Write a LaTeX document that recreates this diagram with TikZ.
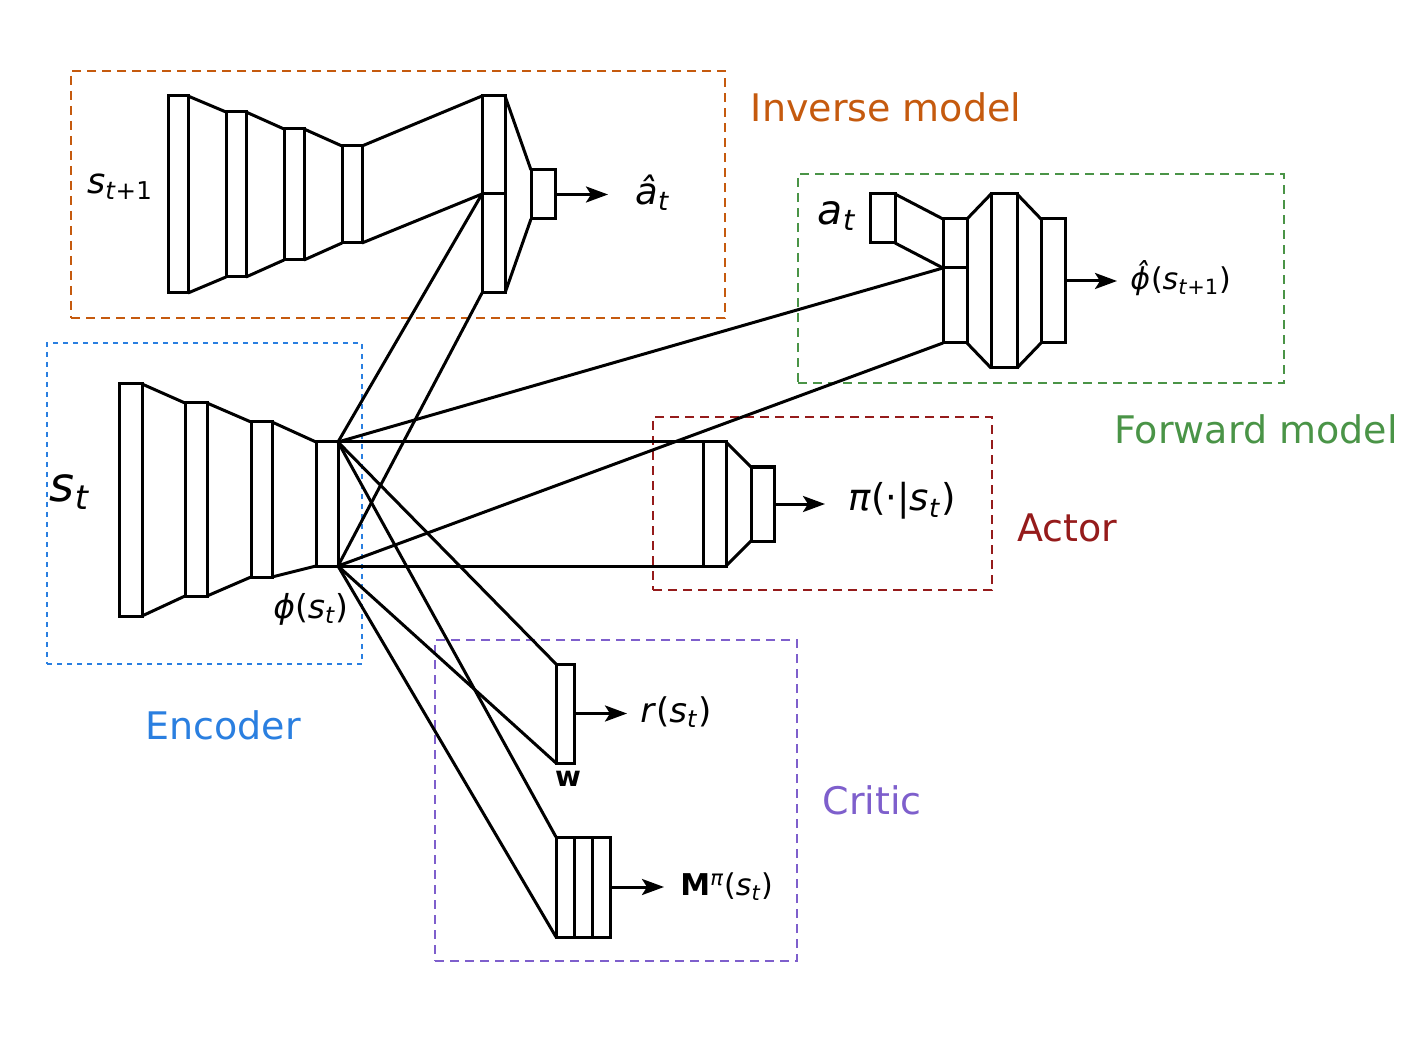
\documentclass[tikz,border=0pt]{standalone}
\usepackage{fontspec}
\setmainfont{DejaVu Sans}
\usetikzlibrary{arrows.meta,fit}

\definecolor{invcol}{RGB}{197,90,14}
\definecolor{fwdcol}{RGB}{74,148,71}
\definecolor{enccol}{RGB}{42,127,224}
\definecolor{actcol}{RGB}{149,27,27}
\definecolor{crtcol}{RGB}{126,95,204}

\newcommand{\fs}[1]{\fontsize{#1}{1.2\dimexpr#1\relax}\selectfont}
\newcommand{\sub}[1]{\textsubscript{#1}}

\tikzset{
  layer/.style={draw, line width=1.5pt, inner sep=0pt, outer sep=0pt},
  conn/.style={line width=1.5pt},
  outarrow/.style={line width=1.5pt, -{Stealth[length=11pt,width=8pt,inset=2.5pt]}, shorten >=6.5pt},
  module/.style={draw=#1, line width=1.25pt, dash pattern=on 4.5pt off 3pt, inner sep=0pt},
  title/.style={inner sep=0pt, font=\fs{19pt}},
  lbl/.style={inner sep=0pt, anchor=west}
}

\begin{document}
\begin{tikzpicture}[x=0.5pt, y=-0.5pt]
    \useasboundingbox (0,0) rectangle (1417,1063);

    % Module frames
    \node[module=invcol, fit={(71,71) (725,318)}] (invbox) {};
    \node[module=fwdcol, fit={(798,174) (1284,383)}] (fwdbox) {};
    \node[module=enccol, line width=1pt, dash pattern=on 2.5pt off 2.5pt, fit={(47,343) (362,664)}] (encbox) {};
    \node[module=actcol, fit={(653,417) (992,590)}] (actbox) {};
    \node[module=crtcol, fit={(435,640) (797,961)}] (crtbox) {};

    \node[title, text=invcol] (invtitle) at (886,107) {Inverse model};
    \node[title, text=fwdcol] (fwdtitle) at (1256,429) {Forward model};
    \node[title, text=enccol] (enctitle) at (223,725) {Encoder};
    \node[title, text=actcol] (acttitle) at (1067,528) {Actor};
    \node[title, text=crtcol] (crttitle) at (872,800) {Critic};

    % Encoder
    \node[layer, fit={(119,384) (142,616)}] (e1) {};
    \node[layer, fit={(185,403) (207,596)}] (e2) {};
    \node[layer, fit={(251,422) (272,577)}] (e3) {};
    \node[layer, fit={(316,442) (338,566)}] (e4) {};
    \foreach \a/\b in {e1/e2, e2/e3, e3/e4}
        \draw[conn] (\a.north east) -- (\b.north west) (\a.south east) -- (\b.south west);
    \node[font=\fs{24pt}] (st) at (70,492) {\textit{s}\sub{\textit{t}}};
    \node[font=\fs{16.5pt}] (phist) at (311,609) {\textit{ϕ}(\textit{s}\sub{\textit{t}})};

    % Inverse model
    \node[layer, fit={(168,96) (188,293)}] (i1) {};
    \node[layer, fit={(226,112) (246,277)}] (i2) {};
    \node[layer, fit={(284,129) (304,260)}] (i3) {};
    \node[layer, fit={(342,146) (362,243)}] (i4) {};
    \node[layer, fit={(482,96) (505,194)}] (i5a) {};
    \node[layer, fit={(482,194) (505,293)}] (i5b) {};
    \node[layer, fit={(531,170) (555,219)}] (i6) {};
    \foreach \a/\b in {i1/i2, i2/i3, i3/i4}
        \draw[conn] (\a.north east) -- (\b.north west) (\a.south east) -- (\b.south west);
    \draw[conn] (i4.north east) -- (i5a.north west) (i4.south east) -- (i5b.north west);
    \draw[conn] (i5a.north east) -- (i6.north west) (i5b.south east) -- (i6.south west);
    \node[font=\fs{17.5pt}] (stnext) at (120,187) {\textit{s}\sub{\textit{t}+1}};
    \node[lbl, font=\fs{18.5pt}] (ahat) at (635,193) {\textit{â}\sub{\textit{t}}};
    \draw[outarrow, shorten >=13.5pt] (i6.east) -- (i6.east -| ahat.west);

    % Forward model
    \node[layer, fit={(870,194) (895,243)}] (fa) {};
    \node[layer, fit={(943,219) (967,268)}] (f1a) {};
    \node[layer, fit={(943,268) (967,343)}] (f1b) {};
    \node[layer, fit={(991,194) (1017,368)}] (f2) {};
    \node[layer, fit={(1041,219) (1065,343)}] (f3) {};
    \draw[conn] (fa.north east) -- (f1a.north west) (fa.south east) -- (f1b.north west);
    \draw[conn] (f1a.north east) -- (f2.north west) (f1b.south east) -- (f2.south west);
    \draw[conn] (f2.north east) -- (f3.north west) (f2.south east) -- (f3.south west);
    \node[font=\fs{20.5pt}] (at) at (837,216) {\textit{a}\sub{\textit{t}}};
    \node[lbl, font=\fs{15pt}] (phinext) at (1130,278) {\textit{ϕ̂}(\textit{s}\sub{\textit{t}+1})};
    \draw[outarrow] (f3.east) -- (f3.east -| phinext.west);

    % Actor
    \node[layer, fit={(703,442) (726,566)}] (a1) {};
    \node[layer, fit={(751,467) (774,541)}] (a2) {};
    \draw[conn] (a1.north east) -- (a2.north west) (a1.south east) -- (a2.south west);
    \node[lbl, font=\fs{18.5pt}] (pi) at (848,501) {\textit{π}(·|\textit{s}\sub{\textit{t}})};
    \draw[outarrow, shorten >=11.5pt] (a2.east) -- (a2.east -| pi.west);

    % Critic
    \node[layer, fit={(556,664) (574,763)}] (c1) {};
    \node[layer, fit={(556,837) (574,937)}] (c2a) {};
    \node[layer, fit={(574,837) (592,937)}] (c2b) {};
    \node[layer, fit={(592,837) (610,937)}] (c2c) {};
    \node[font=\fs{14pt}\bfseries] (w) at (568,779) {w};
    \node[lbl, font=\fs{17pt}] (rst) at (640,712) {\textit{r}(\textit{s}\sub{\textit{t}})};
    \draw[outarrow] (c1.east) -- (c1.east -| rst.west);
    \node[lbl, font=\fs{15pt}] (mst) at (680,887) {\textbf{M}\textsuperscript{\textit{π}}(\textit{s}\sub{\textit{t}})};
    \draw[outarrow, shorten >=8pt] (c2c.east) -- (c2c.east -| mst.west);

    % Shared features to every head
    \draw[conn] (e4.north east) -- (i5b.north west) (e4.south east) -- (i5b.south west);
    \draw[conn] (e4.north east) -- (f1b.north west) (e4.south east) -- (f1b.south west);
    \draw[conn] (e4.north east) -- (a1.north west) (e4.south east) -- (a1.south west);
    \draw[conn] (e4.north east) -- (c1.north west) (e4.south east) -- (c1.south west);
    \draw[conn] (e4.north east) -- (c2a.north west) (e4.south east) -- (c2a.south west);
\end{tikzpicture}
\end{document}
